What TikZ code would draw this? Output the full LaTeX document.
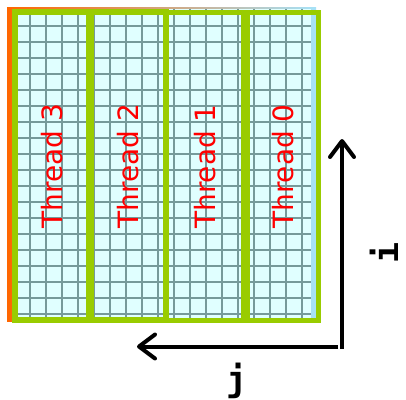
\documentclass[tikz,border=0pt]{standalone}
\usepackage{fontspec}
\newfontfamily\threadfont{DejaVu Sans}
\newfontfamily\axisfont{DejaVu Sans Mono}
\usetikzlibrary{arrows.meta, positioning}
\definecolor{cellfill}{RGB}{224,255,255}
\definecolor{gridline}{RGB}{118,154,154}
\definecolor{threadgreen}{RGB}{153,204,0}
\definecolor{backorange}{RGB}{255,102,0}
\definecolor{backpink}{RGB}{214,160,176}
\definecolor{backblue}{RGB}{166,226,248}
\tikzset{
  threadbox/.style={rectangle, draw=threadgreen, line width=5.5pt, rotate=90,
              minimum height=76pt, minimum width=308pt, inner sep=0pt,
              text=red, font=\threadfont\fontsize{28}{30}\selectfont},
  axis/.style={-{Straight Barb[length=16pt, width=24pt, round]}, line width=4pt, draw=black},
  axislabel/.style={font=\axisfont\bfseries\fontsize{35}{36}\selectfont, inner sep=0pt},
}

\begin{document}
\begin{tikzpicture}[x=1pt, y=-1pt]
    \useasboundingbox (0,0) rectangle (406,399);

    % planes stacked behind the array
    \shade[left color=backorange, middle color=backpink, right color=backblue]
        (7,7) rectangle (316,321);
    \fill[cellfill] (13,9) rectangle (311,318);
    \foreach \x in {30,46,...,302}
        \draw[gridline, line width=2.4pt] (\x,9) -- (\x,318);
    \foreach \y in {26,42,...,314}
        \draw[gridline, line width=2.4pt] (13,\y) -- (311,\y);

    % one column block per thread
    \node[threadbox, minimum height=74pt] (t3) at (52,166) {Thread 3};
    \node[threadbox, minimum height=75pt] (t2) at (128.5,166) {Thread 2};
    \node[threadbox, minimum height=78pt] (t1) at (205,166.5) {Thread 1};
    \node[threadbox, minimum height=71.5pt] (t0) at (282.75,166.5) {Thread 0};

    % loop directions
    \coordinate (corner) at (342,348.5);
    \coordinate (itip) at (342,139);
    \coordinate (jstart) at (338,346.5);
    \coordinate (jtip) at (137,346.5);
    \draw[axis] (corner) -- (itip);
    \draw[axis] (jstart) -- (jtip);
    \node[axislabel, rotate=90] (ilabel) at (384,253) {i};
    \node[axislabel] (jlabel) at (237,381) {j};
\end{tikzpicture}
\end{document}
